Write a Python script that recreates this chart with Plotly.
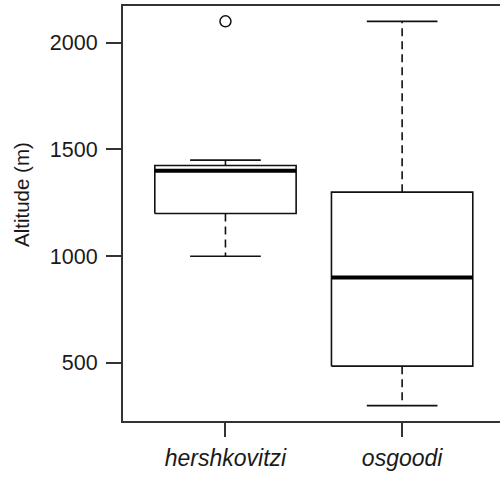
import plotly.graph_objects as go

# ---- data ----
categories = ["hershkovitzi", "osgoodi"]
lower_whisker = [1000, 300]
q1 = [1200, 485]
median = [1400, 900]
q3 = [1425, 1300]
upper_whisker = [1450, 2100]
outliers = [[2100], []]

y_tickvals = [500, 1000, 1500, 2000]
y_title = "Altitude (m)"

# ---- style ----
BOX_HALF = 0.4
CAP_HALF = 0.2
LINE = "#111111"
FONT = "Liberation Sans, Arial, Helvetica, sans-serif"

fig = go.Figure()

for i, cat in enumerate(categories):
    c = i + 1
    # whiskers (dashed)
    fig.add_trace(go.Scatter(
        x=[c, c, None, c, c],
        y=[q3[i], upper_whisker[i], None, q1[i], lower_whisker[i]],
        mode="lines", line=dict(color=LINE, width=1.6, dash="8px,5px"),
        hoverinfo="skip", showlegend=False))
    # caps
    fig.add_trace(go.Scatter(
        x=[c - CAP_HALF, c + CAP_HALF, None, c - CAP_HALF, c + CAP_HALF],
        y=[upper_whisker[i], upper_whisker[i], None, lower_whisker[i], lower_whisker[i]],
        mode="lines", line=dict(color=LINE, width=1.6),
        hoverinfo="skip", showlegend=False))
    # box
    fig.add_trace(go.Scatter(
        x=[c - BOX_HALF, c + BOX_HALF, c + BOX_HALF, c - BOX_HALF, c - BOX_HALF],
        y=[q1[i], q1[i], q3[i], q3[i], q1[i]],
        mode="lines", line=dict(color=LINE, width=1.6),
        hoverinfo="skip", showlegend=False))
    # median
    fig.add_trace(go.Scatter(
        x=[c - BOX_HALF, c + BOX_HALF],
        y=[median[i], median[i]],
        mode="lines", line=dict(color="#000000", width=4),
        hoverinfo="skip", showlegend=False))
    # outliers
    if outliers[i]:
        fig.add_trace(go.Scatter(
            x=[c] * len(outliers[i]), y=outliers[i],
            mode="markers",
            marker=dict(symbol="circle-open", size=11, color=LINE, line=dict(width=1.5)),
            hoverinfo="skip", showlegend=False))

fig.update_layout(
    width=500, height=477,
    margin=dict(l=123, r=0, t=6, b=56),
    paper_bgcolor="white", plot_bgcolor="white",
    font=dict(family=FONT, color="#1a1a1a"),
    xaxis=dict(
        range=[0.42, 2.554], tickvals=[1, 2], ticktext=categories,
        tickfont=dict(size=23, family="Liberation Sans, Arial, sans-serif", style="italic"),
        showgrid=False, zeroline=False,
        showline=True, linecolor="#333333", linewidth=2, mirror=True,
        ticks="outside", ticklen=14, tickwidth=1.5, tickcolor="#333333",
        ticklabelstandoff=1,
    ),
    yaxis=dict(
        range=[228, 2172], tickvals=y_tickvals,
        tickfont=dict(size=21.5),
        showgrid=False, zeroline=False,
        showline=True, linecolor="#333333", linewidth=2,
        ticks="outside", ticklen=15, tickwidth=1.5, tickcolor="#333333",
        ticklabelstandoff=4,
    ),
    annotations=[dict(
        text=y_title, xref="paper", yref="paper",
        x=(22 - 123) / 377, y=(421 - 195) / 415,
        xanchor="center", yanchor="middle", textangle=-90,
        showarrow=False, font=dict(size=20.5, color="#1a1a1a"),
    )],
)

fig.write_html("out.html")
